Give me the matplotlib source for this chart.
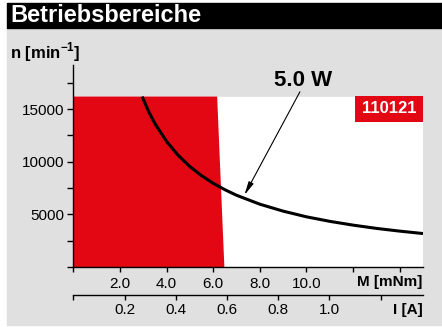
import matplotlib.pyplot as plt
from matplotlib.patches import Rectangle

plt.rcParams["font.family"] = ["Liberation Sans", "DejaVu Sans"]
plt.rcParams["mathtext.fontset"] = "custom"
plt.rcParams["mathtext.rm"] = "Liberation Sans:bold"
plt.rcParams["mathtext.bf"] = "Liberation Sans:bold"

# operating range limits
m_max = 15.0          # mNm
n_max = 16200         # min^-1
amp_per_mnm = 0.091   # current per torque

# continuous operation area (red)
cont_m = [0, 6.48, 6.17, 0]
cont_n = [0, 0, 16200, 16200]

# 5.0 W power curve
curve_m = [2.95, 3.25, 3.5, 4.0, 4.5, 5.0, 5.5, 6.0, 6.5, 7.0, 8.0,
           9.0, 10.0, 11.0, 12.0, 13.0, 14.0, 15.0]
curve_n = [16200, 14690, 13640, 11940, 10610, 9550, 8680, 7960, 7350,
           6820, 5970, 5310, 4770, 4340, 3980, 3670, 3410, 3180]

m_ticks = [0, 2, 4, 6, 8, 10, 12, 14]
m_labels = ["", "2.0", "4.0", "6.0", "8.0", "10.0", "", ""]
i_ticks = [0, 0.2, 0.4, 0.6, 0.8, 1.0, 1.2]
i_labels = ["", "0.2", "0.4", "0.6", "0.8", "1.0", ""]
n_ticks = [0, 5000, 10000, 15000]
n_labels = ["", "5000", "10000", "15000"]
n_minor = [2500, 7500, 12500, 17500]

red = "#e30613"
grey = "#e0e0e0"

fig = plt.figure(figsize=(4.42, 3.27), dpi=100, facecolor="white")
fig.patches.append(Rectangle((7 / 442, 2 / 327), 435 / 442, 297 / 327,
                             transform=fig.transFigure, color=grey, zorder=-10))
fig.patches.append(Rectangle((7 / 442, 1 - 28 / 327), 435 / 442, 25 / 327,
                             transform=fig.transFigure, color="black", zorder=-10))
fig.text(10 / 442, 1 - 16 / 327, "Betriebsbereiche", color="white",
         fontsize=17, fontweight="bold", va="center")
fig.text(10 / 442, 1 - 58 / 327, r"n [min$^{\mathregular{-1}}$]", fontsize=12,
         fontweight="bold", va="baseline")

ax = fig.add_axes([73.3 / 442, 1 - 267 / 327, 349.7 / 442, 202 / 327])
ax.set_facecolor("none")
ax.set_xlim(0, m_max)
ax.set_ylim(0, 19200)

ax.fill([0, m_max, m_max, 0], [0, 0, n_max, n_max], color="white", zorder=0)
ax.fill(cont_m, cont_n, color=red, lw=0, zorder=1)
ax.plot(curve_m, curve_n, color="black", lw=2.2, zorder=3,
        solid_capstyle="butt")

ax.annotate("", xy=(7.34, 6840), xytext=(9.72, 16650), annotation_clip=False,
            arrowprops=dict(arrowstyle="-|>,head_length=0.8,head_width=0.16",
                            color="black", lw=0.8, shrinkA=0, shrinkB=0),
            zorder=4)
ax.text(9.84, 17710, "5.0 W", fontsize=16, fontweight="bold",
        ha="center", va="center")

ax.add_patch(Rectangle((0.8055, 0.7178), 0.1945, 0.1287, transform=ax.transAxes,
                       color=red, lw=0, zorder=5))
ax.text(0.9028, 0.7822, "110121", transform=ax.transAxes, color="white",
        fontsize=12, fontweight="bold", ha="center", va="center", zorder=6)

for s in ["top", "right"]:
    ax.spines[s].set_visible(False)
for s in ["left", "bottom"]:
    ax.spines[s].set_linewidth(1.0)
    ax.spines[s].set_zorder(7)

ax.set_yticks(n_ticks, n_labels)
ax.set_yticks(n_minor, minor=True)
ax.set_xticks(m_ticks, m_labels)
ax.tick_params(axis="y", which="both", direction="out", length=4, width=1,
               pad=2.7, labelsize=11)
ax.tick_params(axis="x", direction="out", length=3.5, width=1, pad=3.6,
               labelsize=11)

sec = ax.secondary_xaxis(-0.1386, functions=(lambda m: m * amp_per_mnm,
                                             lambda a: a / amp_per_mnm))
sec.set_xticks(i_ticks, i_labels)
sec.tick_params(direction="out", length=3.5, width=1, pad=2.2, labelsize=11)
sec.spines["bottom"].set_linewidth(1.0)

ax.text(0.999, -0.0718, "M [mNm]", transform=ax.transAxes, fontsize=11,
        fontweight="bold", ha="right", va="center")
ax.text(0.999, -0.2129, "I [A]", transform=ax.transAxes, fontsize=11,
        fontweight="bold", ha="right", va="center")

fig.savefig("out.png", dpi=100, facecolor="white")
